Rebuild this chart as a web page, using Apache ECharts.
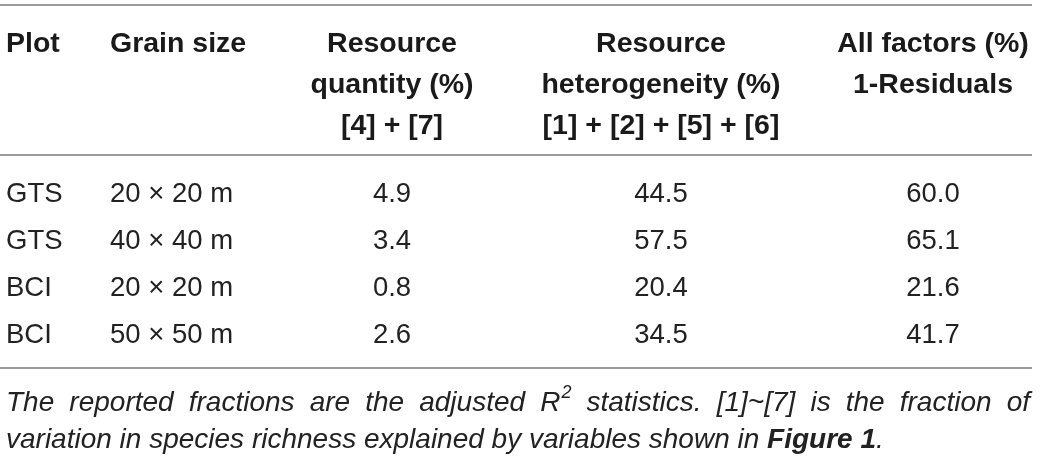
<!DOCTYPE html>
<html>
<head>
<meta charset="utf-8">
<script src="https://cdn.jsdelivr.net/npm/echarts@6/dist/echarts.min.js"></script>
<style>
html, body { margin: 0; padding: 0; background: #fff; }
#tableone { width: 1042px; height: 460px; }
</style>
</head>
<body>
<div id="tableone"></div>
<script>
// header lines, one array per column
var headPlot = ['Plot'];
var headGrain = ['Grain size'];
var headQuantity = ['Resource', 'quantity (%)', '[4] + [7]'];
var headHetero = ['Resource', 'heterogeneity (%)', '[1] + [2] + [5] + [6]'];
var headAll = ['All factors (%)', '1-Residuals'];

// table body
var plots = ['GTS', 'GTS', 'BCI', 'BCI'];
var grainSizes = ['20 × 20 m', '40 × 40 m', '20 × 20 m', '50 × 50 m'];
var resourceQuantity = [4.9, 3.4, 0.8, 2.6];
var resourceHetero = [44.5, 57.5, 20.4, 34.5];
var allFactors = [60.0, 65.1, 21.6, 41.7];

// footnote
var noteLine1 = ['The', 'reported', 'fractions', 'are', 'the', 'adjusted', 'R^2', 'statistics.', '[1]~[7]', 'is', 'the', 'fraction', 'of'];
var noteLine2 = 'variation in species richness explained by variables shown in ';
var noteBold = 'Figure 1';

// layout
var FONT = '"Liberation Sans", Arial, Helvetica, sans-serif';
var colX = [6, 110, 392, 661, 933];
var colAlign = ['left', 'left', 'center', 'center', 'center'];
var ruleY = [5, 155, 368];
var noteLeft = 6, noteRight = 1030, noteSize = 28;
var noteY1 = 403, noteY2 = 440;

var headCols = [headPlot, headGrain, headQuantity, headHetero, headAll];
var headCells = [];
headCols.forEach(function (lines, c) {
    lines.forEach(function (t, l) { headCells.push([c, l, t]); });
});

var bodyCells = [];
plots.forEach(function (p, r) {
    bodyCells.push([0, r, p]);
    bodyCells.push([1, r, grainSizes[r]]);
    bodyCells.push([2, r, resourceQuantity[r].toFixed(1)]);
    bodyCells.push([3, r, resourceHetero[r].toFixed(1)]);
    bodyCells.push([4, r, allFactors[r].toFixed(1)]);
});

function headOrBody(i) { return i === 0 ? headCells : bodyCells; }
function cellRenderer(weight, size, color) {
    return function (params, api) {
        var c = api.value(0);
        var pt = api.coord([colX[c], api.value(1)]);
        return {
            type: 'text',
            x: pt[0],
            y: pt[1],
            style: {
                text: headOrBody(params.seriesIndex)[params.dataIndex][2],
                fill: color,
                fontFamily: FONT,
                fontWeight: weight,
                fontSize: size,
                align: colAlign[c],
                verticalAlign: 'middle'
            }
        };
    };
}

// justify first note line
var ctx = document.createElement('canvas').getContext('2d');
function measure(t, size, style) {
    ctx.font = (style || 'italic') + ' ' + size + 'px ' + FONT;
    return ctx.measureText(t).width;
}
var supSize = 18;
var widths = noteLine1.map(function (w) {
    if (w === 'R^2') return measure('R', noteSize) + measure('2', supSize) + 1;
    return measure(w, noteSize);
});
var total = widths.reduce(function (a, b) { return a + b; }, 0);
var gap = (noteRight - noteLeft - total) / (noteLine1.length - 1);

var graphics = [];
ruleY.forEach(function (y) {
    graphics.push({
        type: 'line',
        shape: { x1: 0, y1: y, x2: 1032, y2: y },
        style: { stroke: '#9b9b9b', lineWidth: 2 }
    });
});
var nx = noteLeft;
noteLine1.forEach(function (w, i) {
    var st = { fill: '#222', fontFamily: FONT, fontStyle: 'italic', fontSize: noteSize, verticalAlign: 'middle', align: 'left' };
    if (w === 'R^2') {
        var rw = measure('R', noteSize);
        graphics.push({ type: 'text', x: nx, y: noteY1, style: Object.assign({}, st, { text: 'R' }) });
        graphics.push({ type: 'text', x: nx + rw + 1, y: noteY1 - 10, style: Object.assign({}, st, { text: '2', fontSize: supSize }) });
    } else {
        graphics.push({ type: 'text', x: nx, y: noteY1, style: Object.assign({}, st, { text: w }) });
    }
    nx += widths[i] + gap;
});
graphics.push({
    type: 'text', x: noteLeft, y: noteY2,
    style: {
        text: '{n|' + noteLine2 + '}{b|' + noteBold + '}{n|.}',
        verticalAlign: 'middle',
        rich: {
            n: { fill: '#222', fontFamily: FONT, fontStyle: 'italic', fontSize: noteSize },
            b: { fill: '#222', fontFamily: FONT, fontStyle: 'italic', fontWeight: 'bold', fontSize: noteSize }
        }
    }
});

var echartsWarp1 = document.getElementById('tableone');
var myChart1 = echarts.init(echartsWarp1);

var option = {
    animation: false,
    backgroundColor: '#fff',
    grid: [
        { left: 0, right: 0, top: 23.5, height: 123 },   // header lines
        { left: 0, right: 0, top: 171.5, height: 187 }   // body rows
    ],
    xAxis: [
        { type: 'value', gridIndex: 0, min: 0, max: 1042, show: false },
        { type: 'value', gridIndex: 1, min: 0, max: 1042, show: false }
    ],
    yAxis: [
        { type: 'category', gridIndex: 0, inverse: true, data: ['1', '2', '3'], show: false },
        { type: 'category', gridIndex: 1, inverse: true, data: plots.map(function (p, i) { return 'r' + i; }), show: false }
    ],
    series: [
        {
            type: 'custom', xAxisIndex: 0, yAxisIndex: 0,
            renderItem: cellRenderer('bold', 28.5, '#1a1a1a'),
            data: headCells.map(function (d) { return [d[0], d[1]]; })
        },
        {
            type: 'custom', xAxisIndex: 1, yAxisIndex: 1,
            renderItem: cellRenderer('normal', 27.5, '#222'),
            data: bodyCells.map(function (d) { return [d[0], d[1]]; })
        }
    ],
    graphic: graphics
};
myChart1.setOption(option);

window.onresize = function () {
    myChart1.resize();
};
</script>
</body>
</html>
